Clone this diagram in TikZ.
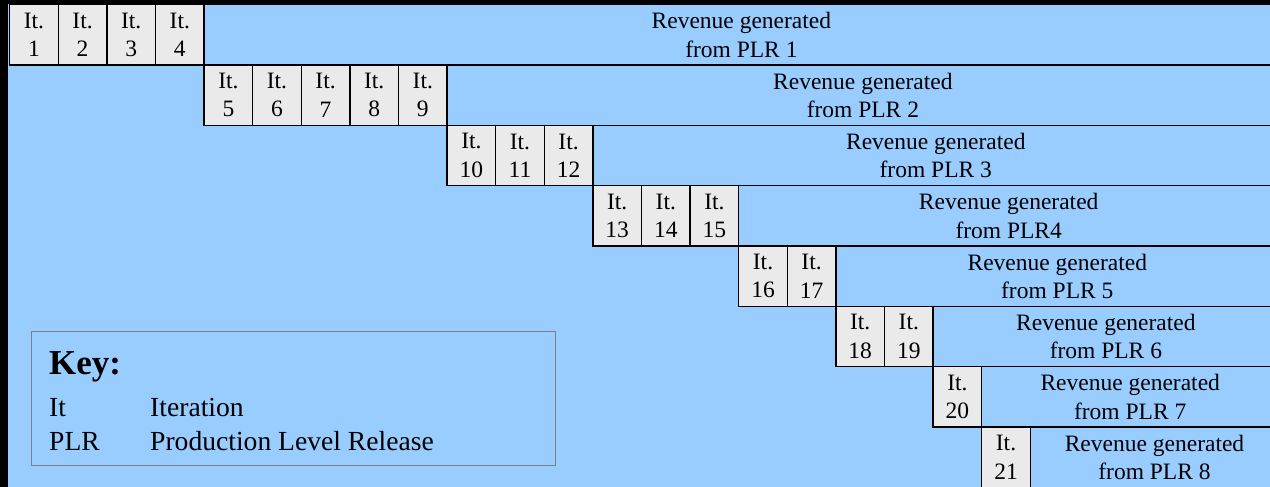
\documentclass[tikz,border=0pt]{standalone}
\usepackage{fontspec}
\setmainfont{Liberation Serif}
\definecolor{bgblue}{HTML}{99CCFF}
\definecolor{cellgray}{HTML}{EAEAEA}
\definecolor{keygray}{HTML}{808080}
\begin{document}
\begin{tikzpicture}[x=1pt,y=-1pt,
  cell/.style={draw=black,line width=1.4pt,fill=cellgray,
    minimum width=48.6pt,minimum height=60.33pt,inner sep=0pt,
    anchor=north west,align=center,font=\fontsize{23.5}{28.4}\selectfont},
  revbox/.style={draw=black,line width=1.4pt,fill=bgblue,
    minimum height=60.33pt,inner sep=0pt,
    anchor=north west,align=center,font=\fontsize{23.5}{28.4}\selectfont},
  keytext/.style={inner sep=0pt,anchor=base west,font=\fontsize{27.6}{30}\selectfont},
  keyhead/.style={inner sep=0pt,anchor=base west,font=\fontsize{35}{40}\selectfont\bfseries}]
% page and backdrop
\fill[black] (0,0) rectangle (1270,487);
\fill[bgblue] (8,4) rectangle (1270,487);
\useasboundingbox (0,0) rectangle (1270,487);
\begin{scope}
\clip (0,0) rectangle (1270,487);
% one row per release: row / first cell / number of iterations / release label
\foreach \r/\s/\n/\lbl in {1/0/4/PLR 1, 2/4/5/PLR 2, 3/9/3/PLR 3, 4/12/3/PLR4,
                           5/15/2/PLR 5, 6/17/2/PLR 6, 7/19/1/PLR 7, 8/20/1/PLR 8}{
  \pgfmathsetmacro{\ytop}{4+(\r-1)*60.33}
  \foreach \i in {1,...,\n}{
    \pgfmathtruncatemacro{\c}{\s+\i}
    \pgfmathsetmacro{\xl}{9+(\c-1)*48.6}
    \node[cell] (it\c) at (\xl,\ytop) {It.\\\c};
  }
  \pgfmathsetmacro{\xr}{9+(\s+\n)*48.6}
  \pgfmathsetmacro{\wr}{1278-\xr}
  \node[revbox,minimum width=\wr pt] (rev\r) at (\xr,\ytop) {Revenue generated\\from \lbl};
}
\end{scope}
% key
\node[draw=keygray,line width=1pt,anchor=north west,minimum width=524pt,
      minimum height=134pt,inner sep=0pt] (key) at (31,331) {};
\node[keyhead] (keytitle) at (49,374) {Key:};
\node[keytext] (keyit) at (49,416) {It};
\node[keytext] (keyitdef) at (150,416) {Iteration};
\node[keytext] (keyplr) at (49,450.7) {PLR};
\node[keytext] (keyplrdef) at (150,450.7) {Production Level Release};
\end{tikzpicture}
\end{document}
